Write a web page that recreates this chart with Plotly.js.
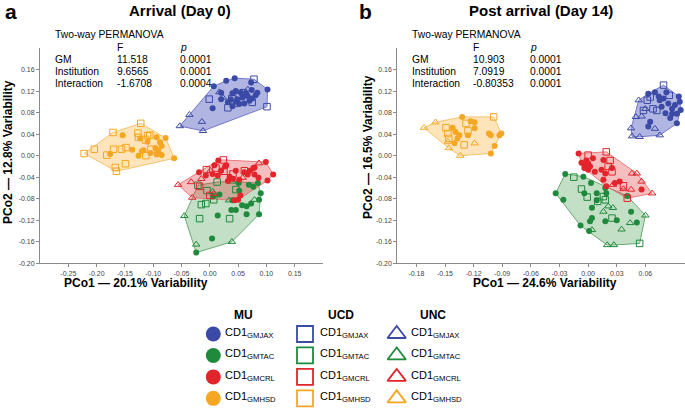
<!DOCTYPE html>
<html>
<head>
    <title>PCoA Arrival vs Post arrival</title>
    <script src="https://cdn.plot.ly/plotly-3.0.1.min.js"></script>
    <style>
        body { margin: 0; background-color: white; }
        #chart { width: 685px; height: 408px; }
    </style>
</head>
<body>
    <div id="chart"></div>

    <script>
        // ---- Arrival (Day 0) : [PCo1, PCo2] ----
        const arrJaxMU = [[0.044,0.144],[0.073,0.136],[0.102,0.123],[0.007,0.129],[0.020,0.117],[0.005,0.088],[0.040,0.116],[0.046,0.120],[0.055,0.117],[0.064,0.116],[0.067,0.111],[0.058,0.108],[0.049,0.105],[0.037,0.105],[0.032,0.099],[0.046,0.100],[0.070,0.102],[0.075,0.106],[0.081,0.112],[0.084,0.117],[0.061,0.097],[0.052,0.096],[0.020,0.105],[0.074,0.122],[0.040,0.092],[0.029,0.139]];
        const arrJaxUCD = [[0.078,0.142],[0.101,0.091],[-0.001,0.105],[0.032,0.089],[0.043,0.097],[0.059,0.117],[0.075,0.099],[0.039,0.106],[0.052,0.110]];
        const arrJaxUNC = [[-0.053,0.055],[-0.012,0.046],[-0.036,0.076],[-0.014,0.063],[0.017,0.118],[0.067,0.123],[0.023,0.108]];

        const arrTacMU = [[-0.024,-0.180],[0.004,-0.154],[0.014,-0.111],[0.017,-0.072],[0.006,-0.076],[0.038,-0.101],[0.046,-0.101],[0.052,-0.065],[0.051,-0.051],[0.057,-0.092],[0.065,-0.094],[0.073,-0.089],[0.065,-0.109],[0.077,-0.058],[0.085,-0.051],[0.090,-0.070],[0.087,-0.082],[0.087,-0.109],[0.069,-0.054],[0.040,-0.083]];
        const arrTacUCD = [[-0.018,-0.117],[-0.015,-0.091],[-0.007,-0.089],[0.007,-0.082],[0.035,-0.117],[0.013,-0.049],[0.046,-0.063],[-0.021,-0.055],[-0.005,-0.065]];
        const arrTacUNC = [[-0.045,-0.112],[-0.024,-0.165],[0.039,-0.160],[0.034,-0.083],[0.079,-0.082],[0.005,-0.067],[0.040,-0.048]];

        const arrCrlMU = [[-0.019,-0.031],[-0.007,-0.037],[0.005,-0.034],[0.014,-0.037],[0.020,-0.028],[0.027,-0.020],[0.015,-0.009],[0.008,-0.018],[0.046,-0.028],[0.035,-0.039],[0.032,-0.047],[0.041,-0.043],[0.052,-0.045],[0.061,-0.031],[0.067,-0.035],[0.071,-0.028],[0.079,-0.022],[0.079,-0.035],[0.086,-0.041],[0.099,-0.012],[0.112,-0.035],[0.102,-0.046],[0.054,-0.074],[0.044,-0.083],[0.050,-0.082],[0.029,-0.018],[0.077,-0.023]];
        const arrCrlUCD = [[0.024,-0.008],[-0.006,-0.026],[0.011,-0.023],[0.061,-0.028],[0.025,-0.029],[-0.018,-0.057],[0.000,-0.074],[0.041,-0.034]];
        const arrCrlUNC = [[-0.056,-0.054],[-0.033,-0.049],[-0.015,-0.043],[0.001,-0.028],[0.087,-0.014],[-0.031,-0.078],[0.007,-0.071],[0.058,-0.041]];

        const arrHsdMU = [[-0.154,0.038],[-0.123,0.032],[-0.110,0.026],[-0.094,0.034],[-0.078,0.033],[-0.088,0.025],[-0.085,0.018],[-0.091,0.009],[-0.096,0.014],[-0.117,0.010],[-0.120,0.008],[-0.137,0.011],[-0.126,0.000],[-0.105,0.005],[-0.094,0.002],[-0.085,0.001],[-0.176,0.003],[-0.063,-0.005]];
        const arrHsdUCD = [[-0.122,0.060],[-0.171,0.043],[-0.204,0.012],[-0.222,0.004],[-0.170,0.012],[-0.156,0.012],[-0.148,0.015],[-0.127,0.042],[-0.126,0.034],[-0.110,0.037],[-0.106,0.038],[-0.113,0.029],[-0.104,0.012],[-0.113,0.000],[-0.182,0.001],[-0.149,-0.015],[-0.167,-0.022],[-0.165,-0.029]];
        const arrHsdUNC = [];

        // ---- Post arrival (Day 14) ----
        const postJaxMU = [[0.063,0.115],[0.074,0.110],[0.075,0.103],[0.079,0.106],[0.082,0.118],[0.095,0.110],[0.096,0.100],[0.091,0.094],[0.088,0.087],[0.084,0.097],[0.077,0.091],[0.081,0.079],[0.088,0.078],[0.093,0.078],[0.093,0.060],[0.065,0.063],[0.063,0.054],[0.097,0.085],[0.070,0.118],[0.086,0.070]];
        const postJaxUCD = [[0.079,0.131],[0.065,0.109],[0.062,0.103],[0.058,0.084],[0.072,0.084],[0.068,0.087],[0.085,0.112]];
        const postJaxUNC = [[0.053,0.103],[0.050,0.072],[0.056,0.073],[0.060,0.087],[0.045,0.051],[0.046,0.036],[0.054,0.035],[0.075,0.038],[0.070,0.050]];

        const postTacMU = [[-0.024,-0.034],[-0.005,-0.039],[0.003,-0.051],[-0.034,-0.070],[-0.026,-0.082],[-0.004,-0.070],[0.009,-0.070],[0.018,-0.060],[0.019,-0.070],[0.004,-0.097],[0.009,-0.083],[0.004,-0.116],[0.002,-0.122],[-0.008,-0.130],[0.001,-0.140],[0.018,-0.122],[0.030,-0.120],[0.041,-0.075],[0.045,-0.104],[0.051,-0.124]];
        const postTacUCD = [[-0.015,-0.040],[-0.007,-0.062],[-0.001,-0.077],[0.016,-0.076],[0.010,-0.085],[0.018,-0.082],[0.025,-0.116],[0.054,-0.163]];
        const postTacUNC = [[0.021,-0.094],[0.016,-0.104],[0.026,-0.097],[0.035,-0.137],[0.044,-0.125],[0.060,-0.111],[0.004,-0.138],[0.020,-0.166],[0.027,-0.166]];

        const postCrlMU = [[-0.010,0.004],[-0.002,-0.009],[-0.007,-0.013],[-0.004,-0.017],[0.000,-0.014],[0.002,-0.020],[-0.004,-0.023],[0.000,-0.026],[0.007,-0.030],[0.005,-0.005],[0.014,-0.026],[0.016,-0.008],[0.018,-0.033],[0.025,-0.023],[0.016,-0.045],[0.028,-0.051],[0.033,-0.048],[0.056,-0.063],[0.019,-0.057]];
        const postCrlUCD = [[0.000,0.001],[0.019,0.007],[0.023,-0.009],[0.021,-0.020],[0.025,-0.030],[0.041,-0.079],[0.037,-0.056]];
        const postCrlUNC = [[0.046,-0.033],[0.051,-0.033],[0.056,-0.048],[0.067,-0.070],[0.045,-0.063],[0.037,-0.062],[0.026,-0.054]];

        const postHsdMU = [[-0.132,0.072],[-0.123,0.064],[-0.119,0.062],[-0.142,0.052],[-0.139,0.044],[-0.135,0.038],[-0.137,0.032],[-0.119,0.051],[-0.126,0.038],[-0.104,0.041],[-0.102,0.038],[-0.091,0.041],[-0.093,0.038],[-0.098,0.018],[-0.102,0.004],[-0.140,0.023]];
        const postHsdUCD = [[-0.099,0.072],[-0.149,0.052],[-0.147,0.041],[-0.128,0.060],[-0.126,0.046],[-0.146,0.032],[-0.130,0.020]];
        const postHsdUNC = [[-0.172,0.052],[-0.160,0.062],[-0.147,0.026],[-0.134,0.000],[-0.119,0.023],[-0.146,0.014]];

        // PERMANOVA tables
        const permTerms = ['GM', 'Institution', 'Interaction'];
        const permFArr = ['11.518', '9.6565', '-1.6708'];
        const permPArr = ['0.0001', '0.0001', '0.0004'];
        const permFPost = ['10.903', '7.0919', '-0.80353'];
        const permPPost = ['0.0001', '0.0001', '0.0001'];

        // groups / institutions
        const gmNames = ['GMJAX', 'GMTAC', 'GMCRL', 'GMHSD'];
        const instNames = ['MU', 'UCD', 'UNC'];

        const gmColors = ['#3a4aa6', '#1f8a3b', '#e2242b', '#f5a623'];
        const hullFill = ['rgba(60,70,180,0.4)', 'rgba(40,140,50,0.28)', 'rgba(230,40,45,0.3)', 'rgba(250,170,40,0.32)'];
        const hullLine = ['#7278c8', '#6aaa72', '#e8777a', '#f5c46e'];
        const instSymbols = ['circle', 'square-open', 'triangle-up-open'];

        const arrival = [[arrJaxMU, arrJaxUCD, arrJaxUNC], [arrTacMU, arrTacUCD, arrTacUNC], [arrCrlMU, arrCrlUCD, arrCrlUNC], [arrHsdMU, arrHsdUCD, arrHsdUNC]];
        const post = [[postJaxMU, postJaxUCD, postJaxUNC], [postTacMU, postTacUCD, postTacUNC], [postCrlMU, postCrlUCD, postCrlUNC], [postHsdMU, postHsdUCD, postHsdUNC]];

        const FONT = 'Arial, "Liberation Sans", sans-serif';

        // convex hull (monotone chain)
        function hull(pts) {
            const p = pts.slice().sort((a, b) => a[0] - b[0] || a[1] - b[1]);
            const cross = (o, a, b) => (a[0] - o[0]) * (b[1] - o[1]) - (a[1] - o[1]) * (b[0] - o[0]);
            const lower = [], upper = [];
            for (const q of p) {
                while (lower.length >= 2 && cross(lower[lower.length - 2], lower[lower.length - 1], q) <= 0) lower.pop();
                lower.push(q);
            }
            for (let i = p.length - 1; i >= 0; i--) {
                const q = p[i];
                while (upper.length >= 2 && cross(upper[upper.length - 2], upper[upper.length - 1], q) <= 0) upper.pop();
                upper.push(q);
            }
            upper.pop(); lower.pop();
            const h = lower.concat(upper);
            h.push(h[0]);
            return h;
        }

        const traces = [];
        function addPanel(data, xa, ya) {
            // hulls first
            data.forEach((groups, g) => {
                const h = hull([].concat(...groups));
                traces.push({
                    x: h.map(d => d[0]), y: h.map(d => d[1]),
                    xaxis: xa, yaxis: ya, type: 'scatter', mode: 'lines',
                    fill: 'toself', fillcolor: hullFill[g],
                    line: {color: hullLine[g], width: 1},
                    hoverinfo: 'skip', showlegend: false
                });
            });
            data.forEach((groups, g) => {
                groups.forEach((pts, k) => {
                    traces.push({
                        x: pts.map(d => d[0]), y: pts.map(d => d[1]),
                        xaxis: xa, yaxis: ya, type: 'scatter', mode: 'markers',
                        name: instNames[k] + ' ' + gmNames[g],
                        marker: {
                            symbol: instSymbols[k], size: k === 0 ? 6 : 6.5,
                            color: gmColors[g],
                            line: {color: gmColors[g], width: k === 0 ? 0 : 1}
                        },
                        showlegend: false
                    });
                });
            });
        }
        addPanel(arrival, 'x', 'y');
        addPanel(post, 'x2', 'y2');

        // legend swatches, placed on a hidden axis by column (institution) / row (group)
        const legX0 = 213.3, legDX = 91.7, legY0 = 334, legDY = 21.45;
        instNames.forEach((inst, k) => {
            traces.push({
                x: gmNames.map(() => k), y: gmNames.map((g, i) => i),
                xaxis: 'x3', yaxis: 'y3', type: 'scatter', mode: 'markers',
                marker: {
                    symbol: instSymbols[k], size: k === 0 ? 15 : 16,
                    color: gmColors,
                    line: {color: gmColors, width: k === 0 ? 0 : 1.8}
                },
                hoverinfo: 'skip', showlegend: false, cliponaxis: false
            });
        });

        function ann(text, px, py, size, extra) {
            return Object.assign({
                xref: 'paper', yref: 'paper', x: px / 685, y: 1 - py / 408,
                xanchor: 'left', yanchor: 'middle', showarrow: false, text: text,
                font: {family: FONT, size: size, color: '#000'}
            }, extra || {});
        }

        const annotations = [];
        // panel letters and titles
        annotations.push(ann('<b>a</b>', 3, 11, 21));
        annotations.push(ann('<b>Arrival (Day 0)</b>', 180, 10, 15, {xanchor: 'center'}));
        annotations.push(ann('<b>b</b>', 357, 11, 21));
        annotations.push(ann('<b>Post arrival (Day 14)</b>', 541, 10, 15, {xanchor: 'center'}));
        // axis titles
        annotations.push(ann('<b>PCo1 — 20.1% Variability</b>', 136, 283, 12, {xanchor: 'center'}));
        annotations.push(ann('<b>PCo2 — 12.8% Variability</b>', 8, 152, 12, {xanchor: 'center', textangle: -90}));
        annotations.push(ann('<b>PCo1 — 24.6% Variability</b>', 545, 283, 12, {xanchor: 'center'}));
        annotations.push(ann('<b>PCo2 — 16.5% Variability</b>', 368, 147, 12, {xanchor: 'center', textangle: -90}));

        // PERMANOVA tables
        function table(x0, xF, xP, fVals, pVals) {
            annotations.push(ann('Two-way PERMANOVA', x0, 34, 10.3));
            annotations.push(ann('F', xF, 47, 10.3));
            annotations.push(ann('<i>p</i>', xP, 47, 10.3));
            permTerms.forEach((t, i) => {
                const py = 59.3 + i * 12;
                annotations.push(ann(t, x0, py, 10.3));
                annotations.push(ann(fVals[i], xF, py, 10.3));
                annotations.push(ann(pVals[i], xP, py, 10.3));
            });
        }
        table(53, 115, 177.5, permFArr, permPArr);
        table(410, 471.5, 528, permFPost, permPPost);

        // legend headers and labels
        const headOff = [0.33, 0.39, 0.40];
        const textOff = [0.105, 0.145, 0.135];
        instNames.forEach((inst, k) => {
            annotations.push({
                xref: 'x3', yref: 'y3', x: k + headOff[k], y: (315 - legY0) / legDY,
                xanchor: 'center', yanchor: 'middle', showarrow: false,
                text: '<b>' + inst + '</b>', font: {family: FONT, size: 12, color: '#000'}
            });
            gmNames.forEach((g, i) => {
                annotations.push({
                    xref: 'x3', yref: 'y3', x: k + textOff[k], y: i - 0.05,
                    xanchor: 'left', yanchor: 'middle', showarrow: false,
                    text: 'CD1<sub>' + g + '</sub>', font: {family: FONT, size: 11, color: '#000'}
                });
            });
        });

        const axisStyle = {
            showline: true, linecolor: '#8a8a8a', linewidth: 1,
            ticks: 'outside', ticklen: 3, tickwidth: 1, tickcolor: '#8a8a8a',
            tickfont: {family: FONT, size: 7, color: '#444'},
            showgrid: false, zeroline: false, tickmode: 'array', fixedrange: true
        };
        const fmt = v => v.toFixed(2);
        const ticksX1 = [-0.25, -0.20, -0.15, -0.10, -0.05, 0.00, 0.05, 0.10, 0.15];
        const ticksX2 = [-0.18, -0.15, -0.12, -0.09, -0.06, -0.03, 0.00, 0.03, 0.06];
        const ticksY = [-0.20, -0.16, -0.12, -0.08, -0.04, 0.00, 0.04, 0.08, 0.12, 0.16];
        const yDomain = [(408 - 263.3) / 408, (408 - 48) / 408];

        const layout = {
            width: 685, height: 408,
            margin: {l: 0, r: 0, t: 0, b: 0},
            paper_bgcolor: 'white', plot_bgcolor: 'rgba(0,0,0,0)',
            showlegend: false,
            font: {family: FONT},
            xaxis: Object.assign({}, axisStyle, {domain: [40 / 685, 323 / 685], range: [-0.30, 0.20], anchor: 'y', tickvals: ticksX1, ticktext: ticksX1.map(fmt)}),
            yaxis: Object.assign({}, axisStyle, {domain: yDomain, range: [-0.20, 0.20], anchor: 'x', tickvals: ticksY, ticktext: ticksY.map(fmt)}),
            xaxis2: Object.assign({}, axisStyle, {domain: [397.3 / 685, 1], range: [-0.20, 0.1015], anchor: 'y2', tickvals: ticksX2, ticktext: ticksX2.map(fmt)}),
            yaxis2: Object.assign({}, axisStyle, {domain: yDomain, range: [-0.20, 0.20], anchor: 'x2', tickvals: ticksY, ticktext: ticksY.map(fmt)}),
            xaxis3: {domain: [0, 1], range: [-legX0 / legDX, (685 - legX0) / legDX], visible: false, fixedrange: true, anchor: 'y3'},
            yaxis3: {domain: [0, 1], range: [(408 - legY0) / legDY, -legY0 / legDY], visible: false, fixedrange: true, anchor: 'x3'},
            annotations: annotations
        };

        Plotly.newPlot('chart', traces, layout, {displayModeBar: false, staticPlot: true});
    </script>
</body>
</html>
